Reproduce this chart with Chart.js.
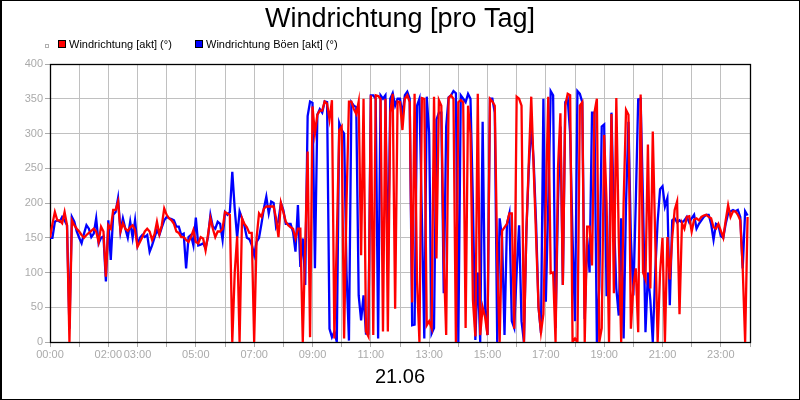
<!DOCTYPE html>
<html>
<head>
<meta charset="utf-8">
<script src="https://cdn.jsdelivr.net/npm/chart.js@4.4.0/dist/chart.umd.min.js"></script>
<style>
html, body { margin: 0; padding: 0; background: #fff; }
#wrap { width: 800px; height: 400px; }
</style>
</head>
<body>
<div id="wrap"><canvas id="chart" width="800" height="400"></canvas></div>
<script>
const titleText = 'Windrichtung [pro Tag]';
const dateLabel = '21.06';
const seriesNames = ['Windrichtung [akt] (°)', 'Windrichtung Böen [akt] (°)'];
const seriesColors = ['#ff0000', '#0000ff'];
const shownTimes = ['00:00', '02:00', '03:00', '05:00', '07:00', '09:00', '11:00',
    '13:00', '15:00', '17:00', '19:00', '21:00', '23:00'];
const sampleStep = 5; // minutes between readings

// one row = one hour (12 readings)
const windAkt = [
    150,170,187,175,175,171,187,168,0,175,168,163,
    159,154,150,154,157,160,163,159,144,166,159,94,
    168,163,190,190,202,159,171,163,160,165,168,161,
    137,144,151,159,163,159,147,155,173,155,168,192,
    183,178,175,170,159,157,151,151,147,144,151,161,
    144,142,151,149,132,154,178,163,151,159,159,163,
    187,185,183,0,100,152,0,178,170,165,157,157,
    0,150,185,180,192,195,195,195,195,178,151,200,
    187,173,168,165,163,149,163,163,0,140,274,7,
    339,300,327,333,333,346,343,320,348,5,150,305,
    310,5,200,346,346,335,328,346,125,350,15,8,
    355,10,355,354,350,15,350,15,330,357,48,346,
    345,305,350,355,345,57,357,88,0,351,350,24,
    30,20,353,120,348,340,120,10,351,355,350,0,
    345,348,345,20,340,300,60,8,357,10,50,36,
    10,350,346,340,118,0,160,165,170,185,185,19,
    353,350,340,0,159,260,353,250,150,50,14,40,
    200,353,99,100,0,250,329,82,340,357,355,0,
    5,0,340,345,0,166,166,110,330,350,0,20,
    298,200,0,328,70,351,150,0,200,334,327,19,
    80,106,14,356,100,90,284,77,303,150,0,100,
    150,0,151,90,150,190,202,40,171,163,180,181,
    159,176,178,175,180,182,183,180,178,165,163,170,
    160,150,175,197,180,188,188,183,175,106,0,180
];

const windBoeen = [
    150,150,173,175,173,180,175,168,19,180,173,159,
    150,142,156,168,163,151,156,178,142,150,152,87,
    175,118,183,187,207,159,178,163,150,173,150,175,
    139,150,154,151,154,130,139,150,161,154,165,175,
    180,178,177,175,166,166,154,156,106,151,154,139,
    179,139,140,142,135,151,183,166,163,173,170,147,
    187,183,187,245,192,150,188,178,167,150,148,140,
    125,144,150,170,192,209,185,202,200,166,175,200,
    190,170,170,170,158,130,197,108,149,82,325,346,
    344,106,327,335,330,346,345,19,7,15,0,315,
    305,300,100,2,345,340,338,67,31,67,12,12,
    355,355,350,5,355,350,355,100,350,358,340,350,
    350,327,355,360,350,24,25,340,350,180,5,353,
    300,12,20,320,330,330,70,310,352,355,361,358,
    0,355,350,345,357,350,200,3,100,0,317,50,
    10,350,350,330,0,178,150,10,170,185,30,20,
    100,168,30,0,160,250,313,260,170,50,13,350,
    58,200,361,355,20,200,310,82,345,350,300,150,
    30,361,357,345,33,150,100,330,330,0,80,310,
    313,66,100,330,180,77,38,178,5,200,317,150,
    67,200,349,350,200,14,100,60,0,100,173,220,
    224,195,207,53,175,178,172,175,172,175,180,172,
    178,183,163,170,175,180,183,183,170,147,170,168,
    152,150,170,185,188,190,188,190,180,106,188,182
];

const FONT = '"Liberation Sans", Arial, sans-serif';
Chart.defaults.font.family = FONT;

const toPoints = (values) => values.map((v, i) => ({x: i * sampleStep, y: v}));

const hhmm = (min) => {
    const h = Math.floor(min / 60), m = min % 60;
    return String(h).padStart(2, '0') + ':' + String(m).padStart(2, '0');
};

// frame round the plot, outer border and the legend row
const framePlugin = {
    id: 'frame',
    beforeDatasetsDraw(chart) {
        const {ctx, chartArea: a} = chart;
        ctx.save();
        ctx.strokeStyle = '#000';
        ctx.lineWidth = 1.3;
        ctx.strokeRect(a.left + 0.5, a.top + 0.5, a.right - a.left, a.bottom - a.top);
        ctx.restore();
    },
    afterDraw(chart) {
        const ctx = chart.ctx;
        ctx.save();
        ctx.strokeStyle = '#000';
        ctx.lineWidth = 1;
        ctx.strokeRect(0.5, 0.5, chart.width - 1, chart.height - 1);
        ctx.fillStyle = '#000';
        ctx.fillRect(0, 0, 2, chart.height);

        ctx.strokeStyle = '#b0b0b0';
        ctx.strokeRect(45.5, 44.5, 3, 3);

        const boxX = [58, 195];
        ctx.font = '11px ' + FONT;
        ctx.textBaseline = 'middle';
        seriesNames.forEach((name, i) => {
            ctx.fillStyle = seriesColors[i];
            ctx.fillRect(boxX[i], 40, 8, 8);
            ctx.strokeStyle = '#000';
            ctx.strokeRect(boxX[i] + 0.5, 40.5, 7, 7);
            ctx.fillStyle = '#000';
            ctx.fillText(name, boxX[i] + 11, 44.5);
        });
        ctx.restore();
    }
};

new Chart(document.getElementById('chart'), {
    type: 'line',
    data: {
        datasets: [
            {label: seriesNames[0], data: toPoints(windAkt), borderColor: seriesColors[0],
                borderWidth: 2.3, pointRadius: 0, tension: 0, fill: false},
            {label: seriesNames[1], data: toPoints(windBoeen), borderColor: seriesColors[1],
                borderWidth: 2.3, pointRadius: 0, tension: 0, fill: false}
        ]
    },
    options: {
        responsive: false,
        animation: false,
        layout: {padding: 0},
        plugins: {
            legend: {display: false},
            tooltip: {enabled: false},
            title: {
                display: true,
                text: titleText,
                color: '#000',
                font: {size: 27, weight: 'normal'},
                padding: {top: 3, bottom: 28.6}
            }
        },
        scales: {
            x: {
                type: 'linear',
                min: 0,
                max: 1440,
                ticks: {
                    stepSize: 60,
                    maxTicksLimit: 30,
                    autoSkip: false,
                    maxRotation: 0,
                    color: '#aaaaaa',
                    font: {size: 11},
                    padding: 1,
                    callback: (v) => shownTimes.includes(hhmm(v)) ? hhmm(v) : ''
                },
                grid: {color: '#c0c0c0', tickLength: 5, tickColor: '#aaaaaa'},
                border: {display: false},
                title: {
                    display: true,
                    text: dateLabel,
                    color: '#000',
                    font: {size: 20},
                    padding: {top: 0, bottom: 11}
                },
                afterFit: (s) => { s.height = 58; }
            },
            y: {
                min: 0,
                max: 400,
                ticks: {stepSize: 50, color: '#aaaaaa', font: {size: 11}, padding: 2},
                grid: {color: '#c0c0c0', tickLength: 5, tickColor: '#aaaaaa'},
                border: {display: false},
                afterFit: (s) => { s.width = 50; }
            },
            yRight: {
                position: 'right',
                grid: {display: false},
                ticks: {display: false},
                border: {display: false},
                afterFit: (s) => { s.width = 50; }
            }
        }
    },
    plugins: [framePlugin]
});
</script>
</body>
</html>
